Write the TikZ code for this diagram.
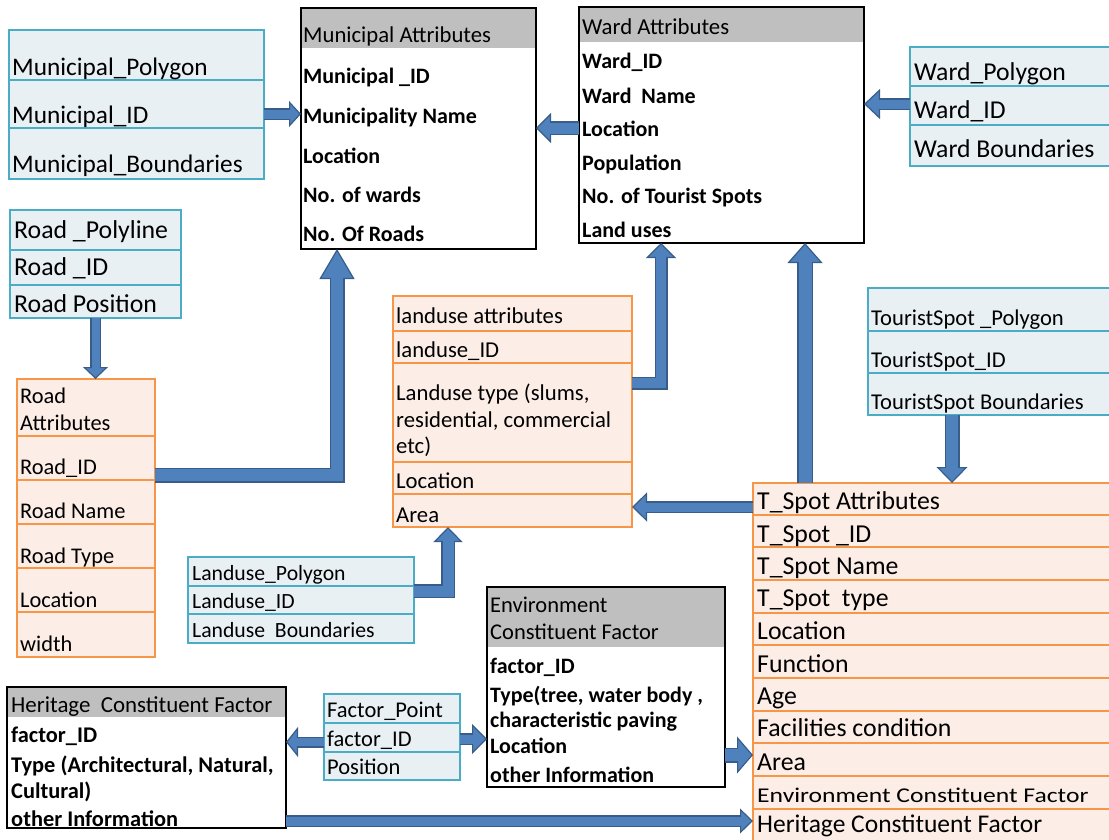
\documentclass[tikz,border=0pt]{standalone}
\usepackage{fontspec}
\setmainfont{Carlito}
\usetikzlibrary{arrows.meta}
\definecolor{ablue}{HTML}{4F81BD}
\definecolor{adark}{HTML}{385D8A}
\definecolor{bline}{HTML}{4BACC6}
\definecolor{bfill}{HTML}{E9F0F4}
\definecolor{oline}{HTML}{F79646}
\definecolor{ofill}{HTML}{FCEDE6}
\definecolor{hgray}{HTML}{BFBFBF}
\begin{document}
\begin{tikzpicture}[x=1pt,y=-1pt,
  box/.style={anchor=north west, inner sep=0pt, outer sep=0pt, line width=1.8pt},
  bbox/.style={box, draw=bline, fill=bfill},
  obox/.style={box, draw=oline, fill=ofill},
  kbox/.style={box, draw=black, fill=white,
    path picture={\fill[hgray] (path picture bounding box.north west) rectangle ([yshift=-#1]path picture bounding box.north east);}},
  brow/.style={draw=bline, line width=1.5pt},
  orow/.style={draw=oline, line width=1.5pt},
  lbl/.style={anchor=base west, inner sep=0pt, font=\fontsize{#1}{#1}\selectfont},
  blbl/.style={anchor=base west, inner sep=0pt, font=\fontsize{#1}{#1}\selectfont\bfseries},
  conn/.style n args={5}{draw=adark, line width=#1, line join=miter,
    -{Triangle[width=#3,length=#4,line width=1.2pt,fill=ablue,color=adark]},
    postaction={draw=ablue, line width=#2, -, shorten >=#5}}
]
\useasboundingbox (0,0) rectangle (1109,839);

% ---------------- boxes ----------------
\node[bbox, minimum width=255pt, minimum height=149pt] (mpoly) at (9,30) {};
\draw[brow] (9,80) -- (264,80);
\draw[brow] (9,128) -- (264,128);

\node[kbox=40pt, minimum width=235pt, minimum height=241pt] (mattr) at (301,8) {};
\node[kbox=35pt, minimum width=285pt, minimum height=236pt] (wattr) at (579,7) {};

\node[bbox, minimum width=215pt, minimum height=119pt] (wpoly) at (910,47) {};
\draw[brow] (910,86) -- (1112,86);
\draw[brow] (910,125) -- (1112,125);

\node[bbox, minimum width=171pt, minimum height=108pt] (rpoly) at (10,210) {};
\draw[brow] (10,250) -- (181,250);
\draw[brow] (10,285) -- (181,285);

\node[obox, minimum width=138pt, minimum height=278pt] (rattr) at (17,379) {};
\foreach \yy in {436,480,524,568,612} \draw[orow] (17,\yy) -- (155,\yy);

\node[obox, minimum width=239pt, minimum height=231pt] (lattr) at (393,296) {};
\foreach \yy in {331,363,462,494} \draw[orow] (393,\yy) -- (632,\yy);

\node[bbox, minimum width=226pt, minimum height=86pt] (lpoly) at (188,557) {};
\draw[brow] (188,586) -- (414,586);
\draw[brow] (188,614) -- (414,614);

\node[bbox, minimum width=250pt, minimum height=127pt] (tpoly) at (868,288) {};
\draw[brow] (868,331) -- (1112,331);
\draw[brow] (868,373) -- (1112,373);

\node[obox, minimum width=365pt, minimum height=370pt] (tspot) at (753,483) {};
\foreach \yy in {515,547,580,613,645,678,711,743,776,809} \draw[orow] (753,\yy) -- (1112,\yy);

\node[kbox=60pt, minimum width=238pt, minimum height=200pt] (env) at (487,587) {};
\node[kbox=30pt, minimum width=279pt, minimum height=141pt] (her) at (7,687) {};

\node[bbox, minimum width=136pt, minimum height=86pt] (fp) at (324,694) {};
\draw[brow] (324,723) -- (460,723);
\draw[brow] (324,752) -- (460,752);

% ---------------- texts ----------------
\node[lbl=25.3] (mp1) at (12,75) {Municipal\_Polygon};
\node[lbl=25.3] (mp2) at (12,123) {Municipal\_ID};
\node[lbl=25.3] (mp3) at (12,172) {Municipal\_Boundaries};

\node[lbl=22.7] (ma0) at (303,42) {Municipal Attributes};
\node[blbl=22] (ma1) at (303,83) {Municipal \_ID};
\node[blbl=22] (ma2) at (303,123) {Municipality Name};
\node[blbl=22] (ma3) at (303,163) {Location};
\node[blbl=22] (ma4) at (303,202) {No. of wards};
\node[blbl=22] (ma5) at (303,241) {No. Of Roads};

\node[lbl=22.8] (wa0) at (582,34) {Ward Attributes};
\node[blbl=22] (wa1) at (582,68) {Ward\_ID};
\node[blbl=22] (wa2) at (582,103) {Ward\ \ Name};
\node[blbl=22] (wa3) at (582,136) {Location};
\node[blbl=22] (wa4) at (582,170) {Population};
\node[blbl=22] (wa5) at (582,203) {No. of Tourist Spots};
\node[blbl=22] (wa6) at (582,237) {Land uses};

\node[lbl=25.7] (wp1) at (914,80) {Ward\_Polygon};
\node[lbl=25.7] (wp2) at (914,118) {Ward\_ID};
\node[lbl=25.7] (wp3) at (914,157) {Ward Boundaries};

\node[lbl=25.8] (rp1) at (14,238) {Road \_Polyline};
\node[lbl=25.8] (rp2) at (14,275) {Road \_ID};
\node[lbl=25.8] (rp3) at (14,312) {Road Position};

\node[lbl=22.4] (ra0) at (20,403) {Road};
\node[lbl=22.4] (ra0b) at (20,430) {Attributes};
\node[lbl=22.4] (ra1) at (20,474) {Road\_ID};
\node[lbl=22.4] (ra2) at (20,518) {Road Name};
\node[lbl=22.4] (ra3) at (20,563) {Road Type};
\node[lbl=22.4] (ra4) at (20,607) {Location};
\node[lbl=22.4] (ra5) at (20,651) {width};

\node[lbl=22.7] (la0) at (396,323) {landuse attributes};
\node[lbl=22.7] (la1) at (396,357) {landuse\_ID};
\node[lbl=22.7] (la2) at (396,400) {Landuse type (slums,};
\node[lbl=22.7] (la2b) at (396,427) {residential, commercial};
\node[lbl=22.7] (la2c) at (396,453) {etc)};
\node[lbl=22.7] (la3) at (396,488) {Location};
\node[lbl=22.7] (la4) at (396,522) {Area};

\node[lbl=21.7] (lp1) at (192,580) {Landuse\_Polygon};
\node[lbl=21.7] (lp2) at (192,608) {Landuse\_ID};
\node[lbl=21.7] (lp3) at (192,637) {Landuse\ \ Boundaries};

\node[lbl=22.6] (tp1) at (871,325) {TouristSpot \_Polygon};
\node[lbl=22.6] (tp2) at (871,367) {TouristSpot\_ID};
\node[lbl=22.6] (tp3) at (871,409) {TouristSpot Boundaries};

\node[lbl=25.8] (ts0) at (757,509) {T\_Spot Attributes};
\node[lbl=25.8] (ts1) at (757,542) {T\_Spot \_ID};
\node[lbl=25.8] (ts2) at (757,574) {T\_Spot Name};
\node[lbl=25.8] (ts3) at (757,606) {T\_Spot\ \ type};
\node[lbl=25.8] (ts4) at (757,639) {Location};
\node[lbl=25.8] (ts5) at (757,672) {Function};
\node[lbl=25.8] (ts6) at (757,704) {Age};
\node[lbl=25.8] (ts7) at (757,736) {Facilities condition};
\node[lbl=25.8] (ts8) at (757,770) {Area};
\node[lbl=21] (ts9) at (757,802) {\scalebox{1.22}[1]{Environment Constituent Factor}};
\node[lbl=25.5] (ts10) at (757,832) {Heritage Constituent Factor};

\node[lbl=22.5] (en0) at (490,612) {Environment};
\node[lbl=22.5] (en0b) at (490,639) {Constituent Factor};
\node[blbl=22] (en1) at (490,673) {factor\_ID};
\node[blbl=22] (en2) at (490,702) {Type(tree, water body ,};
\node[blbl=22] (en3) at (490,727) {characteristic paving};
\node[blbl=22] (en4) at (490,753) {Location};
\node[blbl=22] (en5) at (490,782) {other Information};

\node[lbl=22.9] (he0) at (11,712) {Heritage\ \ Constituent Factor};
\node[blbl=22.4] (he1) at (11,742) {factor\_ID};
\node[blbl=22.4] (he2) at (11,772) {Type (Architectural, Natural,};
\node[blbl=22.4] (he3) at (11,798) {Cultural)};
\node[blbl=22.4] (he4) at (11,826) {other Information};

\node[lbl=22.5] (fp1) at (327,717) {Factor\_Point};
\node[lbl=22.5] (fp2) at (327,746) {factor\_ID};
\node[lbl=22.5] (fp3) at (327,774) {Position};

% ---------------- connectors ----------------
\draw[conn={12pt}{9pt}{26pt}{12pt}{10pt}] ([yshift=-9.5pt]mpoly.east) -- ([yshift=-9.5pt]mpoly.east -| mattr.west);
\draw[conn={14pt}{11pt}{30pt}{15pt}{13pt}] ([yshift=-3pt]wattr.west) -- ([yshift=-3pt]wattr.west -| mattr.east);
\draw[conn={12pt}{9pt}{30pt}{16pt}{14pt}] ([yshift=2.5pt]wpoly.west) -- ([yshift=2.5pt]wpoly.west -| wattr.east);
\draw[conn={11pt}{8pt}{25pt}{12pt}{10pt}] (rpoly.south) -- (rpoly.south |- rattr.north);
\draw[conn={15pt}{12pt}{35pt}{30pt}{28pt}] ([yshift=43pt]rattr.east) -| ([xshift=-81.5pt]mattr.south);
\draw[conn={13pt}{10pt}{30pt}{15pt}{13pt}] ([yshift=28.5pt]lattr.east) -| ([xshift=-60.5pt]wattr.south);
\draw[conn={16pt}{13pt}{35pt}{20pt}{18pt}] ([xshift=-130.5pt]tspot.north) -- ([xshift=-130.5pt]tspot.north |- wattr.south);
\draw[conn={15pt}{12pt}{31pt}{16pt}{14pt}] ([xshift=-41pt]tpoly.south) -- ([xshift=-41pt]tpoly.south |- tspot.north);
\draw[conn={12pt}{9pt}{29pt}{15pt}{13pt}] ([yshift=-24pt]tspot.north west) -- ([yshift=-24pt]tspot.north west -| lattr.east);
\draw[conn={14pt}{11pt}{29pt}{15pt}{13pt}] ([yshift=9pt]lpoly.east) -| ([xshift=-64.5pt]lattr.south);
\draw[conn={11pt}{8pt}{30pt}{12pt}{10pt}] ([yshift=-5pt]fp.west) -- ([yshift=-5pt]fp.west -| her.east);
\draw[conn={12pt}{9pt}{30pt}{15pt}{13pt}] ([yshift=-2pt]fp.east) -- ([yshift=-2pt]fp.east -| env.west);
\draw[conn={15pt}{12pt}{37pt}{16pt}{14pt}] ([yshift=-68pt]env.east) -- ([yshift=-68pt]env.east -| tspot.west);
\draw[conn={12pt}{9pt}{25pt}{13pt}{11pt}] ([yshift=-63.5pt]her.east) -- ([yshift=-63.5pt]her.east -| tspot.west);
\end{tikzpicture}
\end{document}
